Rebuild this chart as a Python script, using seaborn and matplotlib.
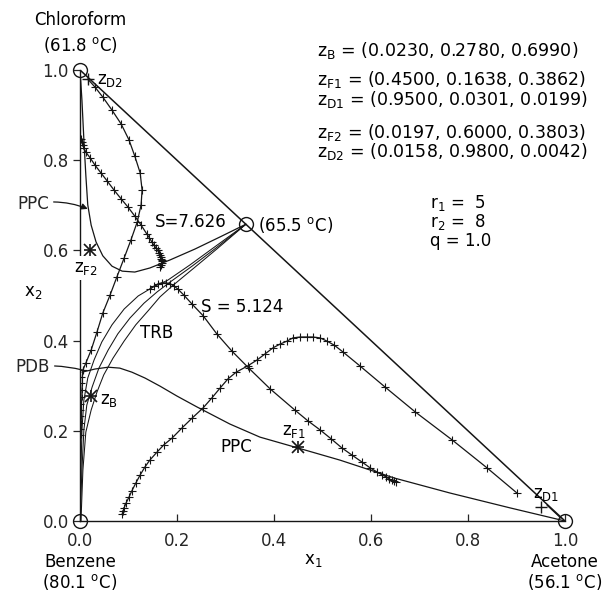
import numpy as np
import matplotlib
matplotlib.use("Agg")
import matplotlib.pyplot as plt
import seaborn as sns

# ---------------- data (mole fractions x1 = acetone, x2 = chloroform) ----------------
hyp_x = [0.0, 1.0]
hyp_y = [1.0, 0.0]

# pinch point curve, column 2
ppc2_x = [0.0, 0.004, 0.008, 0.012, 0.016, 0.023, 0.033, 0.047, 0.066, 0.087, 0.113, 0.144, 0.186, 0.237, 0.289, 0.342]
ppc2_y = [1.0, 0.933, 0.845, 0.767, 0.701, 0.656, 0.619, 0.588, 0.565, 0.554, 0.552, 0.561, 0.579, 0.603, 0.630, 0.658]

# stripping profile column 2 (S = 7.626)
s2_x = [0.002, 0.004, 0.006, 0.008, 0.012, 0.021, 0.031, 0.043, 0.056, 0.070, 0.085, 0.099, 0.113, 0.126,
        0.138, 0.143, 0.148, 0.152, 0.157, 0.160, 0.163, 0.165, 0.167, 0.168, 0.169, 0.169, 0.169, 0.167, 0.165]
s2_y = [0.847, 0.840, 0.834, 0.827, 0.818, 0.805, 0.789, 0.772, 0.754, 0.734, 0.714, 0.696, 0.676, 0.656,
        0.636, 0.628, 0.619, 0.612, 0.605, 0.600, 0.594, 0.590, 0.585, 0.582, 0.579, 0.576, 0.572, 0.568, 0.563]

# rectifying profile column 2
r2_x = [0.016, 0.031, 0.047, 0.066, 0.085, 0.101, 0.113, 0.124, 0.128, 0.126, 0.118, 0.105, 0.091, 0.076,
        0.062, 0.047, 0.035, 0.023, 0.012, 0.006]
r2_y = [0.980, 0.962, 0.940, 0.911, 0.880, 0.845, 0.809, 0.772, 0.734, 0.701, 0.663, 0.623, 0.583, 0.541,
        0.501, 0.461, 0.419, 0.379, 0.350, 0.335]

# rectifying profile column 1 (arch)
r1_x = [0.087, 0.089, 0.091, 0.095, 0.101, 0.107, 0.115, 0.124, 0.134, 0.144, 0.159, 0.173, 0.190, 0.210,
        0.231, 0.254, 0.272, 0.289, 0.305, 0.322, 0.346, 0.365, 0.381, 0.398, 0.412, 0.427, 0.439, 0.454,
        0.468, 0.480, 0.495, 0.509, 0.524, 0.542, 0.577, 0.629, 0.691, 0.767, 0.839, 0.901]
r1_y = [0.016, 0.022, 0.029, 0.040, 0.053, 0.067, 0.084, 0.102, 0.120, 0.135, 0.153, 0.169, 0.184, 0.206,
        0.228, 0.251, 0.273, 0.295, 0.315, 0.330, 0.344, 0.357, 0.370, 0.384, 0.392, 0.399, 0.406, 0.408,
        0.408, 0.408, 0.406, 0.399, 0.390, 0.375, 0.344, 0.297, 0.242, 0.180, 0.118, 0.062]

# stripping profile column 1 (S = 5.124)
s1_x = [0.144, 0.153, 0.161, 0.169, 0.177, 0.186, 0.194, 0.202, 0.214, 0.231, 0.254, 0.282, 0.313, 0.348,
        0.392, 0.443, 0.470, 0.495, 0.518, 0.540, 0.561, 0.581, 0.598, 0.612, 0.623, 0.631, 0.637, 0.643, 0.647, 0.652]
s1_y = [0.514, 0.521, 0.526, 0.528, 0.528, 0.526, 0.521, 0.514, 0.501, 0.481, 0.455, 0.415, 0.377, 0.339,
        0.293, 0.246, 0.222, 0.202, 0.182, 0.162, 0.146, 0.131, 0.118, 0.109, 0.102, 0.098, 0.093, 0.091, 0.089, 0.086]

# pinch point curve, column 1
ppc1_x = [0.004, 0.031, 0.058, 0.082, 0.107, 0.134, 0.165, 0.200, 0.241, 0.309, 0.371, 0.449, 0.536, 0.649, 0.763, 0.887, 1.0]
ppc1_y = [0.330, 0.337, 0.341, 0.339, 0.330, 0.317, 0.299, 0.277, 0.253, 0.215, 0.186, 0.162, 0.135, 0.095, 0.062, 0.029, 0.0]

# thin curves bounding the TRB region
t1_x = [0.0, 0.002, 0.004, 0.008, 0.016, 0.029, 0.045, 0.066, 0.091, 0.120, 0.151, 0.181, 0.227, 0.278, 0.342]
t1_y = [0.0, 0.113, 0.202, 0.268, 0.317, 0.357, 0.397, 0.435, 0.470, 0.499, 0.519, 0.534, 0.568, 0.608, 0.658]
t2_x = [0.0, 0.004, 0.008, 0.014, 0.025, 0.039, 0.058, 0.078, 0.103, 0.132, 0.159, 0.186, 0.231, 0.280, 0.342]
t2_y = [0.0, 0.113, 0.202, 0.257, 0.297, 0.339, 0.379, 0.415, 0.450, 0.483, 0.508, 0.530, 0.565, 0.605, 0.658]
t3_x = [0.002, 0.006, 0.012, 0.023, 0.035, 0.049, 0.068, 0.091, 0.115, 0.142, 0.165, 0.190, 0.235, 0.282, 0.342]
t3_y = [0.0, 0.113, 0.197, 0.246, 0.286, 0.324, 0.361, 0.399, 0.435, 0.468, 0.497, 0.521, 0.561, 0.603, 0.658]

# profile along the benzene-chloroform edge
pe_x = [0.002, 0.002, 0.002, 0.003, 0.003, 0.003, 0.004, 0.004, 0.005, 0.005, 0.006]
pe_y = [0.190, 0.205, 0.218, 0.232, 0.246, 0.260, 0.275, 0.290, 0.305, 0.320, 0.335]

# pure components and azeotrope
node_x = [0.0, 0.0, 1.0, 0.342]
node_y = [0.0, 1.0, 0.0, 0.658]

# compositions
star_x = [0.0230, 0.4500, 0.0197]   # zB, zF1, zF2
star_y = [0.2780, 0.1638, 0.6000]
dist_x = [0.9500, 0.0158]           # zD1, zD2
dist_y = [0.0301, 0.9800]

ticks = [0.0, 0.2, 0.4, 0.6, 0.8, 1.0]
tick_labels = ["0.0", "0.2", "0.4", "0.6", "0.8", "1.0"]

info_lines = [
    r"z$_B$ = (0.0230, 0.2780, 0.6990)",
    r"z$_{F1}$ = (0.4500, 0.1638, 0.3862)",
    r"z$_{D1}$ = (0.9500, 0.0301, 0.0199)",
    r"z$_{F2}$ = (0.0197, 0.6000, 0.3803)",
    r"z$_{D2}$ = (0.0158, 0.9800, 0.0042)",
]
info_y = [1.044, 0.978, 0.935, 0.862, 0.820]
param_lines = [r"r$_1$ =  5", r"r$_2$ =  8", r"q = 1.0"]
param_y = [0.705, 0.663, 0.621]

# ---------------- style ----------------
sns.set_style("ticks")
plt.rcParams["font.family"] = ["DejaVu Sans"]
plt.rcParams["mathtext.fontset"] = "dejavusans"
plt.rcParams["mathtext.default"] = "regular"

FS = 12
LC = "#151515"

fig = plt.figure(figsize=(6.04, 5.92), dpi=100)
ax = fig.add_axes([80 / 604, 71 / 592, 485 / 604, 451 / 592])


def curve(x, y, lw=0.9, marker=None, ms=5, mew=0.8, color=LC, z=2):
    kw = {}
    if marker is not None:
        kw = dict(marker=marker, markersize=ms, markeredgewidth=mew, markeredgecolor=color)
    sns.lineplot(x=np.array(x), y=np.array(y), sort=False, estimator=None, color=color,
                 linewidth=lw, ax=ax, zorder=z, **kw)


curve(hyp_x, hyp_y, lw=1.1)
curve(ppc2_x, ppc2_y)
curve(ppc1_x, ppc1_y)
curve(t1_x, t1_y, lw=0.75)
curve(t2_x, t2_y, lw=0.75)
curve(t3_x, t3_y, lw=0.75)
curve(s2_x, s2_y, marker="+", ms=6)
curve(r2_x, r2_y, marker="+", ms=6)
curve(r1_x, r1_y, marker="+", ms=6)
curve(s1_x, s1_y, marker="+", ms=6)
curve(pe_x, pe_y, marker="+", ms=5)

# open circles at vertices and azeotrope
sns.lineplot(x=np.array(node_x), y=np.array(node_y), sort=False, estimator=None, ax=ax,
             linestyle="", marker="o", markersize=10, markerfacecolor="none",
             markeredgecolor=LC, markeredgewidth=1.0, clip_on=False, zorder=4)
# asterisks
for mk in ["+", "x"]:
    sns.lineplot(x=np.array(star_x), y=np.array(star_y), sort=False, estimator=None, ax=ax,
                 linestyle="", marker=mk, markersize=9, markeredgecolor=LC,
                 markeredgewidth=1.2, zorder=4)
sns.lineplot(x=np.array(dist_x), y=np.array(dist_y), sort=False, estimator=None, ax=ax,
             linestyle="", marker="+", markersize=8, markeredgecolor=LC,
             markeredgewidth=1.0, zorder=4)

# ---------------- axes ----------------
ax.set_xlim(0, 1)
ax.set_ylim(0, 1)
ax.set_xticks(ticks)
ax.set_xticklabels(tick_labels)
ax.set_yticks(ticks)
ax.set_yticklabels(tick_labels)
ax.tick_params(axis="x", direction="in", length=5, width=0.9, pad=8, labelsize=FS)
ax.tick_params(axis="y", direction="out", length=5, width=0.9, pad=3, labelsize=FS)
sns.despine(ax=ax)
for s in ["left", "bottom"]:
    ax.spines[s].set_linewidth(1.0)
    ax.spines[s].set_color(LC)
ax.set_xlabel("")
ax.set_ylabel("")

# ---------------- text ----------------
T = dict(fontsize=FS, color="black")
ax.text(0.0, 1.111, "Chloroform", ha="center", va="center", **T)
ax.text(0.0, 1.055, r"(61.8 $^{o}$C)", ha="center", va="center", **T)
ax.text(0.0, -0.091, "Benzene", ha="center", va="center", **T)
ax.text(0.0, -0.135, r"(80.1 $^{o}$C)", ha="center", va="center", **T)
ax.text(1.0, -0.091, "Acetone", ha="center", va="center", **T)
ax.text(1.0, -0.135, r"(56.1 $^{o}$C)", ha="center", va="center", **T)
ax.text(0.48, -0.086, r"x$_1$", ha="center", va="center", **T)
ax.text(-0.097, 0.508, r"x$_2$", ha="center", va="center", **T)

ax.text(0.367, 0.656, r"(65.5 $^{o}$C)", ha="left", va="center", **T)
ax.text(0.035, 0.978, r"z$_{D2}$", ha="left", va="center", **T)
ax.text(0.155, 0.662, "S=7.626", ha="left", va="center", **T)
ax.text(0.250, 0.475, "S = 5.124", ha="left", va="center", **T)
ax.text(0.159, 0.417, "TRB", ha="center", va="center", **T)
ax.text(0.041, 0.268, r"z$_B$", ha="left", va="center", **T)
ax.text(0.289, 0.164, "PPC", ha="left", va="center", **T)
ax.text(0.417, 0.200, r"z$_{F1}$", ha="left", va="center", **T)
ax.text(0.934, 0.060, r"z$_{D1}$", ha="left", va="center", **T)
ax.text(0.012, 0.561, r"z$_{F2}$", ha="center", va="center", zorder=5,
        bbox=dict(fc="white", ec="none", pad=2), **T)

ax.annotate("PPC", xy=(0.016, 0.692), xytext=(-0.064, 0.703), ha="right", va="center",
            annotation_clip=False, fontsize=FS,
            arrowprops=dict(arrowstyle="-|>", color=LC, lw=0.9, mutation_scale=9,
                            connectionstyle="arc3,rad=-0.15", shrinkA=1, shrinkB=0))
ax.annotate("PDB", xy=(0.004, 0.335), xytext=(-0.062, 0.341), ha="right", va="center",
            annotation_clip=False, fontsize=FS,
            arrowprops=dict(arrowstyle="-", color=LC, lw=0.9,
                            connectionstyle="arc3,rad=-0.1", shrinkA=1, shrinkB=0))
ax.annotate("", xy=(0.992, 0.006), xytext=(0.963, 0.035), annotation_clip=False,
            arrowprops=dict(arrowstyle="-", color=LC, lw=0.9, shrinkA=0, shrinkB=0))

for s, yy in zip(info_lines, info_y):
    ax.text(0.489, yy, s, ha="left", va="center", fontsize=12.5, color="black")
for s, yy in zip(param_lines, param_y):
    ax.text(0.722, yy, s, ha="left", va="center", fontsize=12, color="black")

fig.savefig("out.png", dpi=100)
